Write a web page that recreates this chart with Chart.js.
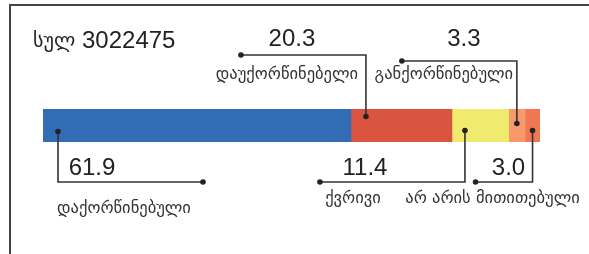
<!DOCTYPE html>
<html>
<head>
<meta charset="utf-8">
<script src="https://cdn.jsdelivr.net/npm/chart.js@4"></script>
<style>
  body { margin: 0; background: #fff; }
  #wrap { position: relative; width: 589px; height: 254px; overflow: hidden; }
  #frame { position: absolute; left: 9px; top: 4px; width: 700px; height: 400px;
           border-top: 2px solid #444; border-left: 2px solid #444; }
  #chart1 { position: absolute; left: 0; top: 0; }
</style>
</head>
<body>
<div id="wrap">
  <div id="frame"></div>
  <canvas id="chart1" width="589" height="254"></canvas>
</div>
<script>
// data
const categories = ["დაქორწინებული", "დაუქორწინებელი", "ქვრივი", "განქორწინებული", "არ არის მითითებული"];
const shares = [61.9, 20.3, 11.4, 3.3, 3.0];
const totalLabel = "სულ";
const totalCount = "3022475";

const colors = ["#316cb5", "#d9553f", "#f0ea6f", "#f7996a", "#f07654"];

// callout layout per segment: side, where the dot sits, elbow, text offsets
const callouts = [
  { side: "down", dot: "left", inset: 15, dy: 6,  lineY: 182, dx: 145,  valX: 34,   labX: 66,   labY: 209 },
  { side: "up",   dot: "left", inset: 15, dy: -9, lineY: 55,  dx: -125, valX: -74,  labX: -79,  labY: 75 },
  { side: "down", dot: "left", inset: 13, dy: 5,  lineY: 182, dx: -145, valX: -100, labX: -112, labY: 199 },
  { side: "up",   dot: "mid",  inset: 0,  dy: -2, lineY: 61,  dx: -115, valX: -53,  labX: -73,  labY: 75 },
  { side: "down", dot: "mid",  inset: 0,  dy: 5,  lineY: 182, dx: -57,  valX: -24,  labX: -40,  labY: 199 }
];

const georgian = "'DejaVu Sans', 'Noto Sans', sans-serif";
const digits = "'Liberation Sans', Arial, sans-serif";

const calloutPlugin = {
  id: "callouts",
  afterDatasetsDraw(chart) {
    const ctx = chart.ctx;
    ctx.save();
    // title
    ctx.fillStyle = "#222";
    ctx.textBaseline = "alphabetic";
    ctx.textAlign = "left";
    ctx.font = "20px " + georgian;
    ctx.fillText(totalLabel, 33, 47);
    ctx.font = "24px " + digits;
    ctx.fillText(totalCount, 82, 48);

    chart.data.datasets.forEach(function (ds, i) {
      const bar = chart.getDatasetMeta(i).data[0];
      const c = callouts[i];
      const left = Math.min(bar.base, bar.x), right = Math.max(bar.base, bar.x);
      const px = c.dot === "mid" ? (left + right) / 2 : left + c.inset;
      const py = bar.y + c.dy;
      const ex = px + c.dx;

      ctx.strokeStyle = "#333";
      ctx.lineWidth = 1.6;
      ctx.beginPath();
      ctx.moveTo(px, py);
      ctx.lineTo(px, c.lineY);
      ctx.lineTo(ex, c.lineY);
      ctx.stroke();

      ctx.fillStyle = "#222";
      [[px, py], [ex, c.lineY]].forEach(function (p) {
        ctx.beginPath();
        ctx.arc(p[0], p[1], 2.8, 0, Math.PI * 2);
        ctx.fill();
      });

      ctx.textAlign = "center";
      ctx.textBaseline = "alphabetic";
      ctx.font = "24px " + digits;
      ctx.fillText(ds.data[0].toFixed(1), px + c.valX, c.side === "up" ? 46 : 175);

      ctx.textBaseline = "middle";
      ctx.font = "16.5px " + georgian;
      ctx.fillStyle = "#333";
      ctx.fillText(ds.label, px + c.labX, c.labY);
    });
    ctx.restore();
  }
};

const totalShare = shares.reduce(function (a, b) { return a + b; }, 0);

let myChart1 = document.getElementById("chart1").getContext("2d");
let chart1 = new Chart(myChart1, {
  type: "bar",
  data: {
    labels: [""],
    datasets: categories.map(function (name, i) {
      return {
        label: name,
        data: [shares[i]],
        backgroundColor: colors[i],
        borderWidth: 0,
        barPercentage: 1,
        categoryPercentage: 1
      };
    })
  },
  options: {
    indexAxis: "y",
    responsive: false,
    animation: false,
    layout: { padding: { left: 43, right: 49, top: 109, bottom: 112 } },
    scales: {
      x: { stacked: true, display: false, min: 0, max: totalShare },
      y: { stacked: true, display: false }
    },
    plugins: { legend: { display: false }, tooltip: { enabled: false } }
  },
  plugins: [calloutPlugin]
});
</script>
</body>
</html>
